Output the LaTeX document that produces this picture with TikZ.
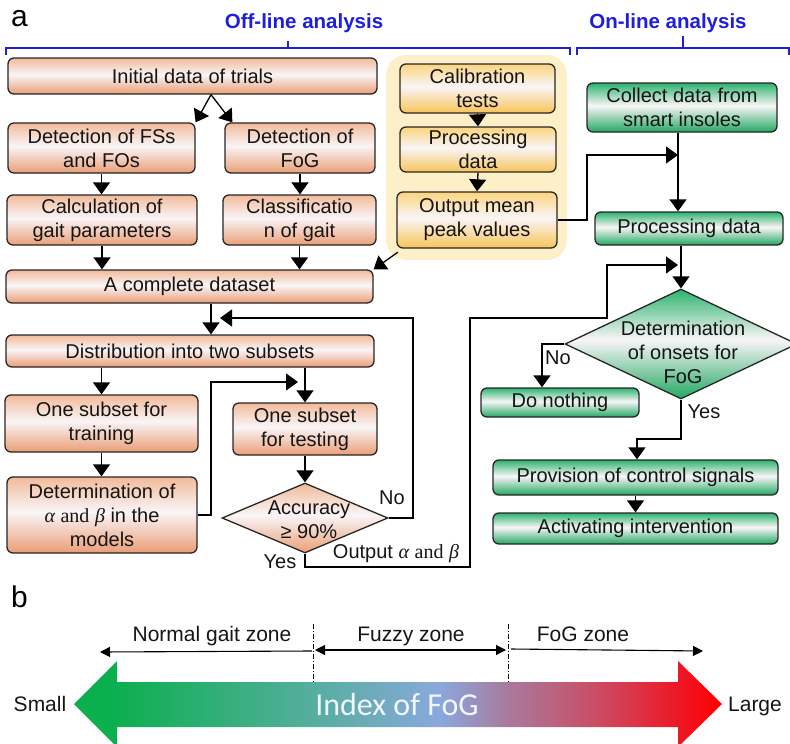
\documentclass[tikz,border=0pt]{standalone}
\usepackage{fontspec}
\setmainfont{Liberation Sans}
\newfontfamily\ser{Liberation Serif}
\newfontfamily\idxfont{Carlito}
\usetikzlibrary{arrows.meta,shapes.geometric,calc}

\definecolor{otop}{HTML}{F2BA9A}
\definecolor{obot}{HTML}{EA9E76}
\definecolor{omid}{HTML}{F9F5F7}
\definecolor{ytop}{HTML}{FBD47E}
\definecolor{ybot}{HTML}{F8C458}
\definecolor{gtop}{HTML}{2DB36E}
\definecolor{gbot}{HTML}{22A863}
\definecolor{ybgc}{HTML}{FDEFC8}
\definecolor{bracec}{HTML}{1E1EDC}
\definecolor{bline}{HTML}{262626}
\definecolor{tcol}{HTML}{151515}
\definecolor{c1}{HTML}{0BAF4E}
\definecolor{c2}{HTML}{55AE9E}
\definecolor{c3}{HTML}{8AA8DC}
\definecolor{c4}{HTML}{A87A9C}
\definecolor{c5}{HTML}{CC4A62}
\definecolor{c6}{HTML}{F2101C}
\definecolor{c7}{HTML}{FF0000}

\pgfdeclareverticalshading{oshade}{100bp}{color(0bp)=(obot); color(25bp)=(obot); color(52bp)=(omid); color(75bp)=(otop); color(100bp)=(otop)}
\pgfdeclareverticalshading{yshade}{100bp}{color(0bp)=(ybot); color(25bp)=(ybot); color(52bp)=(omid); color(75bp)=(ytop); color(100bp)=(ytop)}
\pgfdeclareverticalshading{gshade}{100bp}{color(0bp)=(gbot); color(25bp)=(gbot); color(52bp)=(omid); color(75bp)=(gtop); color(100bp)=(gtop)}
\pgfdeclarehorizontalshading{fogidx}{100bp}{color(0bp)=(c1); color(28bp)=(c1); color(43.4bp)=(c2); color(53.2bp)=(c3); color(58.5bp)=(c4); color(65.6bp)=(c5); color(72.5bp)=(c6); color(75bp)=(c7); color(100bp)=(c7)}

\begin{document}
\begin{tikzpicture}[x=1pt,y=-1pt,
  boxbase/.style={draw=bline, line width=1.3pt, rounded corners=6pt, inner sep=0pt, align=center, font=\fontsize{20}{24}\selectfont, text=tcol},
  obox/.style={boxbase, shade, shading=oshade},
  ybox/.style={boxbase, shade, shading=yshade},
  gbox/.style={boxbase, shade, shading=gshade},
  odia/.style={diamond, draw=bline, line width=1.3pt, inner sep=0pt, shade, shading=oshade},
  gdia/.style={diamond, draw=bline, line width=1.3pt, inner sep=0pt, shade, shading=gshade},
  txt/.style={inner sep=0pt, align=center, font=\fontsize{20}{24}\selectfont, text=tcol},
  bl/.style={inner sep=0pt, font=\fontsize{21}{24}\selectfont, text=tcol},
  arr/.style={line width=1.3pt, -{Triangle[width=17pt,length=12pt]}},
  bracel/.style={draw=bracec, line width=1.3pt},
  head/.style={inner sep=0pt, font=\bfseries\fontsize{20.5}{24}\selectfont, text=bracec},
  zone/.style={line width=1.1pt, arrows={{Triangle[length=10pt,width=10pt]}-{Triangle[length=10pt,width=10pt]}}},
  zonel/.style={line width=1.1pt, arrows={{Triangle[length=10pt,width=10pt]}-}},
  zoner/.style={line width=1.1pt, arrows={-{Triangle[length=10pt,width=10pt]}}},
  dd/.style={line width=1pt, dash pattern=on 5pt off 2pt on 1pt off 2pt}
]
\useasboundingbox (0,0) rectangle (790,744);

% ---------- headings ----------
\node[anchor=base west, inner sep=0pt, font=\fontsize{30}{30}\selectfont] (lbla) at (11,27) {a};
\node[anchor=base, head] (offl) at (304,28) {Off-line analysis};
\node[anchor=base, head] (onl) at (668,28) {On-line analysis};
\draw[bracel] (6,55) -- (6,48) -- (570,48) -- (570,55);
\draw[bracel] (288,48) -- (288,41);
\draw[bracel] (577,55) -- (577,48) -- (789,48) -- (789,55);
\draw[bracel] (683,48) -- (683,36);

% ---------- yellow background ----------
\node[fill=ybgc, rounded corners=20pt, minimum width=181pt, minimum height=205pt, inner sep=0pt] (ybg) at (476.5,157.5) {};

% ---------- off-line boxes ----------
\node[obox, minimum width=369pt, minimum height=36pt] (init) at (192.5,76) {Initial data of trials};
\node[obox, minimum width=187pt, minimum height=50pt] (detfs) at (101.5,148) {Detection of FSs\\and FOs};
\node[obox, minimum width=150pt, minimum height=50pt] (detfog) at (300,148) {Detection of\\FoG};
\node[obox, minimum width=190pt, minimum height=50pt] (calc) at (102,220) {Calculation of\\gait parameters};
\node[obox, minimum width=153pt, minimum height=50pt] (class) at (299.5,220) {Classificatio\\n of gait};
\node[obox, minimum width=367pt, minimum height=33pt] (complete) at (189.5,286.5) {A complete dataset};
\node[obox, minimum width=368pt, minimum height=32pt] (distrib) at (190,351) {Distribution into two subsets};
\node[obox, minimum width=193pt, minimum height=57pt] (train) at (101.5,423.5) {One subset for\\training};
\node[obox, minimum width=190pt, minimum height=76pt] (detab) at (102,515) {Determination of\\{\ser\itshape α} {\ser and} {\ser\itshape β} in the\\models};
\node[obox, minimum width=144pt, minimum height=52pt] (test) at (305,429) {One subset\\for testing};
\node[odia, minimum width=166pt, minimum height=70pt] (acc) at (305,518) {};
\node[txt] (acct) at (309,520) {Accuracy\\≥ 90\%};

% ---------- calibration boxes ----------
\node[ybox, minimum width=155pt, minimum height=49pt] (calib) at (477.5,88.5) {Calibration\\tests};
\node[ybox, minimum width=156pt, minimum height=45pt] (yproc) at (478,149.5) {Processing\\data};
\node[ybox, minimum width=160pt, minimum height=56pt] (outmean) at (477,220) {Output mean\\peak values};

% ---------- on-line boxes ----------
\node[gbox, minimum width=190pt, minimum height=49pt] (collect) at (682,107.5) {Collect data from\\smart insoles};
\node[gbox, minimum width=188pt, minimum height=33pt] (gproc) at (689,228.5) {Processing data};
\node[gdia, minimum width=232pt, minimum height=110pt] (onset) at (681,344) {};
\node[txt] (onsett) at (683,352) {Determination\\of onsets for\\FoG};
\node[gbox, minimum width=158pt, minimum height=29pt] (donothing) at (560,402.5) {Do nothing};
\node[gbox, minimum width=285pt, minimum height=35pt] (provision) at (635.5,477.5) {Provision of control signals};
\node[gbox, minimum width=285pt, minimum height=31pt] (activ) at (635.5,528.5) {Activating intervention};

% ---------- connectors (off-line) ----------
\coordinate (split) at ([xshift=18.5pt]init.south);
\draw[arr] (split) -- (detfs.north east);
\draw[arr] (split) -- ($(detfog.north west)+(8,0)$);
\draw[arr] (detfs.south) -- (detfs.south |- calc.north);
\draw[arr] (detfog.south) -- (detfog.south |- class.north);
\draw[arr] (calc.south) -- (calc.south |- complete.north);
\draw[arr] (class.south) -- (class.south |- complete.north);
\draw[arr] ($(ybg.south west)+(12,-8)$) -- (complete.north east);
\coordinate (cd) at ([xshift=21.5pt]complete.south);
\draw[arr] (cd) -- (cd |- distrib.north);
\draw[arr] (distrib.south -| train.north) -- (train.north);
\draw[arr] (train.south) -- (train.south |- detab.north);
\draw[arr] (distrib.south -| test.north) -- (test.north);
\draw[arr] (test.south) -- (acc.north);
\coordinate (lp) at (211,382);
\coordinate (lpin) at (298,382);
\draw[arr] (detab.east) -| (lp) -- (lpin);
\coordinate (nor) at (413,318);
\coordinate (fbin) at (220,318);
\draw[arr] (acc.east) -| (nor) -- (fbin);
\coordinate (y1) at (470,567);
\coordinate (y2) at (470,318);
\coordinate (y3) at (607,318);
\coordinate (yin) at (678,265);
\draw[arr] (acc.south) |- (y1) -- (y2) -- (y3) |- (yin);

% ---------- connectors (calibration / on-line) ----------
\draw[arr] (calib.south) -- (yproc.north);
\draw[arr] (yproc.south) -- (outmean.north);
\coordinate (o1) at (587,155);
\coordinate (oin) at (678,155);
\draw[arr] (outmean.east) -| (o1) -- (oin);
\draw[arr] (collect.south -| oin) -- (gproc.north -| oin);
\draw[arr] (gproc.south -| onset.north) -- (onset.north);
\coordinate (dn) at (542,0);
\draw[arr] (onset.west) -| (dn |- donothing.north);
\coordinate (ys) at (637,439);
\draw[arr] (onset.south) |- (ys) -- (ys |- provision.north);
\draw[arr] (provision.south) -- (activ.north);

% ---------- labels ----------
\node[txt] (no1) at (392,498) {No};
\node[txt] (yes1) at (280,562) {Yes};
\node[txt] (outab) at (396,554) {Output {\ser\itshape α} {\ser and} {\ser\itshape β}};
\node[txt] (no2) at (558,358) {No};
\node[txt] (yes2) at (704,412) {Yes};

% ---------- part b ----------
\node[anchor=base west, inner sep=0pt, font=\fontsize{30}{30}\selectfont] (lblb) at (11,607) {b};
\node[bl, anchor=base] (nz) at (212,641) {Normal gait zone};
\node[bl, anchor=base] (fz) at (411,641) {Fuzzy zone};
\node[bl, anchor=base] (gz) at (583,641) {FoG zone};
\draw[dd] (313,624) -- (313,682);
\draw[dd] (508,624) -- (508,682);
\draw[zonel] (100,652) -- (312,651);
\draw[zone] (315,650) -- (506,650);
\draw[zoner] (511,649) -- (703,651);
\shade[shading=fogidx] (74,704) -- (117,661) -- (117,682) -- (678,682) -- (678,661) -- (722,704) -- (678,747) -- (678,727) -- (117,727) -- (117,747) -- cycle;
\node[inner sep=0pt, anchor=base, font=\idxfont\fontsize{32}{34}\selectfont, text={rgb,255:red,242;green,246;blue,255}] (idx) at (397,715) {Index of FoG};
\node[bl, anchor=base] (small) at (40,711) {Small};
\node[bl, anchor=base] (large) at (755,711) {Large};
\end{tikzpicture}
\end{document}
